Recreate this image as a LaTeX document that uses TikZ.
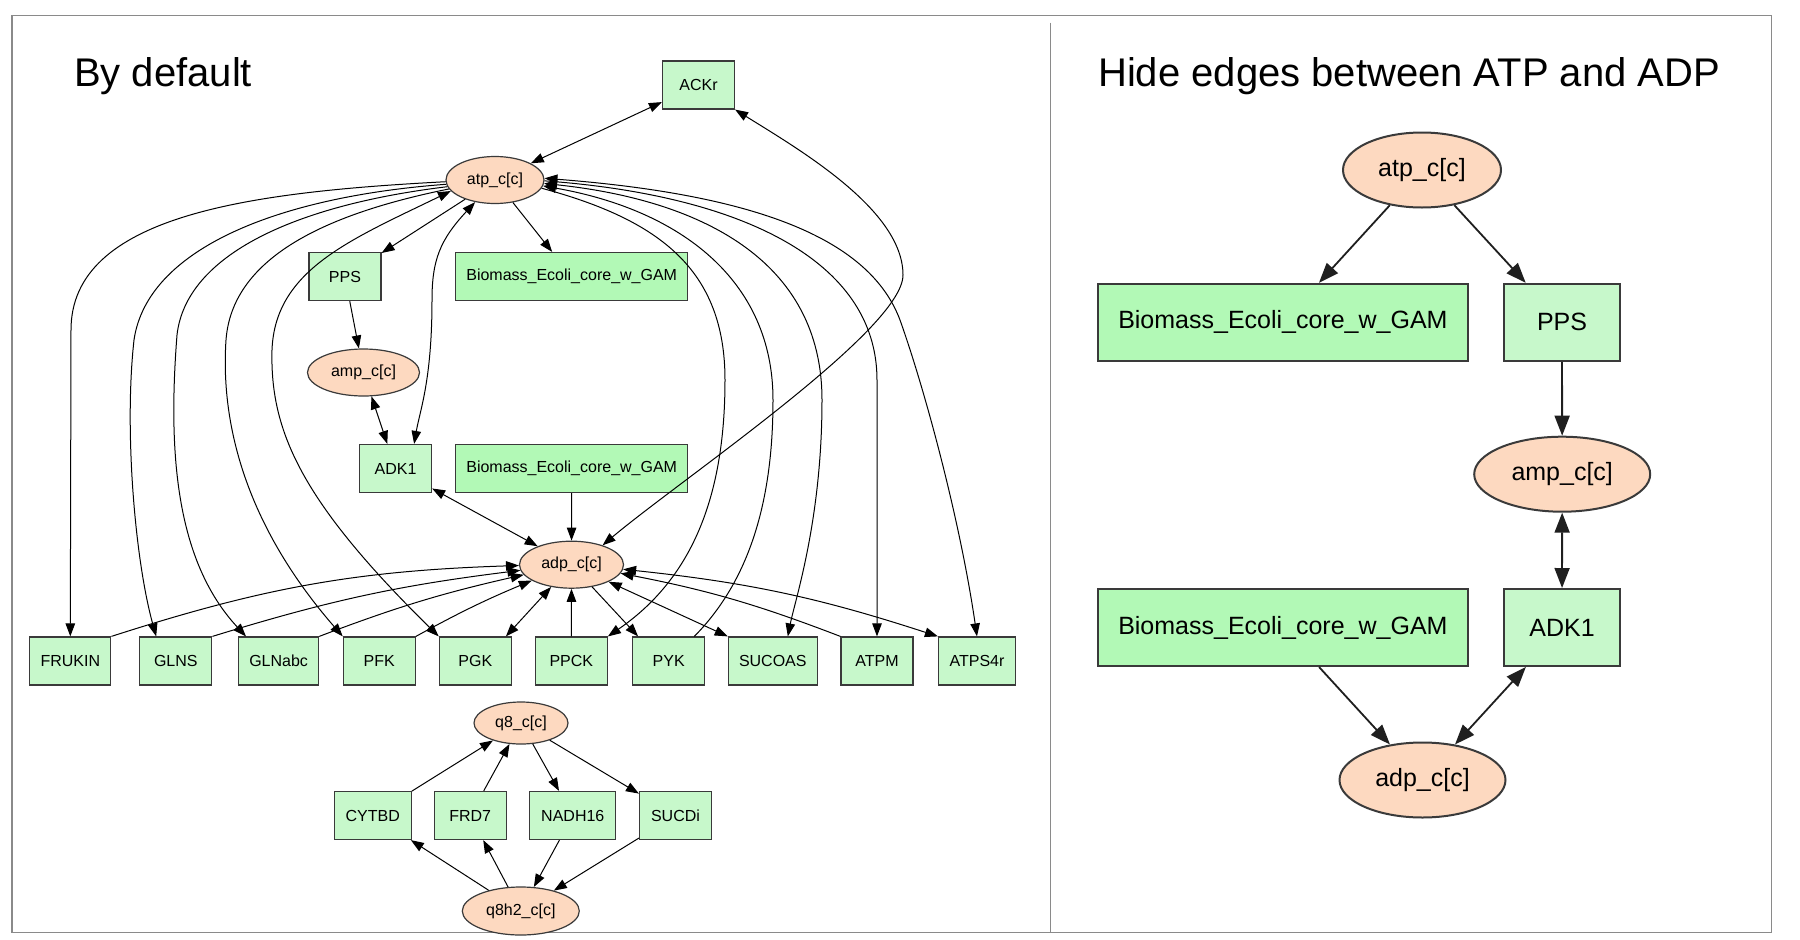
\documentclass[tikz,border=0pt]{standalone}
\usepackage{fontspec}
\setmainfont{Liberation Sans}
\usetikzlibrary{arrows.meta,shapes.geometric}
\definecolor{rxn}{RGB}{199,248,203}
\definecolor{bio}{RGB}{178,249,182}
\definecolor{met}{RGB}{253,217,192}
\definecolor{bord}{RGB}{58,58,58}
\definecolor{framec}{RGB}{138,138,138}
\begin{document}
\begin{tikzpicture}[x=1pt,y=-1pt,
  rxnL/.style={rectangle, draw=bord, fill=rxn, line width=1.2pt, inner sep=0pt, minimum height=48pt, font=\fontsize{16}{19}\selectfont},
  bioL/.style={rxnL, fill=bio},
  metL/.style={ellipse, draw=bord, fill=met, line width=1.2pt, inner sep=0pt, minimum height=47pt, font=\fontsize{16}{19}\selectfont},
  rxnR/.style={rectangle, draw=bord, fill=rxn, line width=2pt, inner sep=0pt, minimum height=77pt, font=\fontsize{25}{30}\selectfont},
  bioR/.style={rxnR, fill=bio},
  metR/.style={ellipse, draw=bord, fill=met, line width=2pt, inner sep=0pt, minimum height=75pt, font=\fontsize{25}{30}\selectfont},
  eL/.style={line width=1pt, draw=black, >={Triangle[length=13pt,width=9.5pt]}},
  eR/.style={line width=1.8pt, draw=black!88, >={Triangle[length=20pt,width=15pt]}},
  titlef/.style={anchor=base west, inner sep=0pt, font=\fontsize{40}{48}\selectfont}
]
\useasboundingbox (0,0) rectangle (1800,940);
\draw[framec, line width=1.5pt] (12,15.7) rectangle (1771.7,932.7);
\draw[framec, line width=1.5pt] (1050.7,22.7) -- (1050.7,932.7);

\node[titlef] (t1) at (74,86) {By default};
\node[titlef] (t2) at (1098,86) {Hide edges between ATP and ADP};

% ---------------- left panel nodes
\node[rxnL, minimum width=72pt] (ACKr) at (698.5,85) {ACKr};
\node[metL, minimum width=98pt] (atp) at (495,180) {atp\_c[c]};
\node[rxnL, minimum width=72pt] (PPS) at (345,276.5) {PPS};
\node[bioL, minimum width=232pt] (bio1) at (571.7,276.5) {Biomass\_Ecoli\_core\_w\_GAM};
\node[metL, minimum width=112pt] (amp) at (363.5,372.5) {amp\_c[c]};
\node[rxnL, minimum width=72pt] (ADK1) at (395.5,468.5) {ADK1};
\node[bioL, minimum width=232pt] (bio2) at (571.7,468.5) {Biomass\_Ecoli\_core\_w\_GAM};
\node[metL, minimum width=104pt] (adp) at (571.5,564.7) {adp\_c[c]};

\node[rxnL, minimum width=81pt] (FRUKIN) at (70.3,661) {FRUKIN};
\node[rxnL, minimum width=72pt] (GLNS) at (175.8,661) {GLNS};
\node[rxnL, minimum width=80pt] (GLNabc) at (278.6,661) {GLNabc};
\node[rxnL, minimum width=72pt] (PFK) at (379.3,661) {PFK};
\node[rxnL, minimum width=72pt] (PGK) at (475.3,661) {PGK};
\node[rxnL, minimum width=72pt] (PPCK) at (571.3,661) {PPCK};
\node[rxnL, minimum width=72pt] (PYK) at (668.7,661) {PYK};
\node[rxnL, minimum width=89pt] (SUCOAS) at (772.8,661) {SUCOAS};
\node[rxnL, minimum width=72pt] (ATPM) at (877,661) {ATPM};
\node[rxnL, minimum width=77pt] (ATPS4r) at (977,661) {ATPS4r};

\node[metL, minimum width=94pt, minimum height=42pt] (q8) at (521,723) {q8\_c[c]};
\node[rxnL, minimum width=77pt] (CYTBD) at (372.7,815.5) {CYTBD};
\node[rxnL, minimum width=72pt] (FRD7) at (470.2,815.5) {FRD7};
\node[rxnL, minimum width=86pt] (NADH16) at (572.8,815.5) {NADH16};
\node[rxnL, minimum width=72pt] (SUCDi) at (675.5,815.5) {SUCDi};
\node[metL, minimum width=117pt, minimum height=48pt] (q8h2) at (520.8,911) {q8h2\_c[c]};

% ---------------- left panel edges
\draw[eL,<->] (atp) -- (ACKr);
\draw[eL,->] (atp) -- (PPS);
\draw[eL,->] (atp) -- (bio1);
\draw[eL,->] (PPS) -- (amp);
\draw[eL,<->] (amp) -- (ADK1);
\draw[eL,<->] (ADK1) -- (adp);
\draw[eL,->] (bio2) -- (adp);
\draw[eL,<->] (atp.228) .. controls (440,240) and (432,260) .. (432,300) .. controls (432,380) and (420,410) .. ([xshift=-18pt]ADK1.north east);
\draw[eL,<->] (ACKr.south east) .. controls (800,150) and (903,210) .. (903,275) .. controls (903,330) and (680,480) .. (adp.32);

\draw[eL,->] (atp.182) .. controls (250,192) and (71,215) .. (71,330) -- (FRUKIN.north);
\draw[eL,->] (atp.185) .. controls (275,197) and (147,250) .. (134,340) .. controls (124,430) and (135,560) .. ([xshift=17pt]GLNS.north west);
\draw[eL,->] (atp.188) .. controls (295,205) and (186,255) .. (177,335) .. controls (168,450) and (175,560) .. ([xshift=8pt]GLNabc.north west);
\draw[eL,->] (atp.191) .. controls (320,215) and (232,260) .. (226,340) .. controls (220,430) and (250,530) .. (PFK.north west);
\draw[eL,<->] (atp.194) .. controls (350,240) and (275,270) .. (272,350) .. controls (270,430) and (300,500) .. (PGK.north west);

\draw[eL,<->] (atp.2) .. controls (760,195) and (870,240) .. (900,320) .. controls (925,390) and (960,520) .. (ATPS4r.north);
\draw[eL,->] (atp.-1) .. controls (740,195) and (877,260) .. (877,380) -- (ATPM.north);
\draw[eL,<->] (atp.-4) .. controls (700,200) and (822,260) .. (822,400) .. controls (822,520) and (795,600) .. ([xshift=15pt]SUCOAS.north);
\draw[eL,->] ([xshift=-11pt]PYK.north east) .. controls (750,580) and (773,500) .. (773,400) .. controls (773,280) and (680,210) .. (atp.-7);
\draw[eL,->] (atp.-10) .. controls (660,220) and (725,270) .. (725,380) .. controls (725,500) and (690,580) .. (PPCK.north east);

\draw[eL,->] (FRUKIN.north east) to[bend left=8] (adp);
\draw[eL,->] (GLNS.north east) to[bend left=5] (adp);
\draw[eL,->] (GLNabc.north east) to[bend left=4] (adp);
\draw[eL,->] (PFK.north east) to[bend left=3] (adp);
\draw[eL,<->] ([xshift=-6pt]PGK.north east) -- (adp);
\draw[eL,->] (PPCK.north) -- (adp.south);
\draw[eL,->] (adp) -- ([xshift=6pt]PYK.north west);
\draw[eL,<->] (adp) -- (SUCOAS.north west);
\draw[eL,->] (ATPM.north west) to[bend right=5] (adp);
\draw[eL,<->] (adp) to[bend left=6] (ATPS4r.north west);

\draw[eL,->] (CYTBD) -- (q8);
\draw[eL,->] (FRD7) -- (q8);
\draw[eL,->] (q8) -- (NADH16);
\draw[eL,->] (q8) -- (SUCDi);
\draw[eL,->] (q8h2) -- (CYTBD);
\draw[eL,->] (q8h2) -- (FRD7);
\draw[eL,->] (NADH16) -- (q8h2);
\draw[eL,->] (SUCDi) -- (q8h2);

% ---------------- right panel
\node[metR, minimum width=158pt] (atpR) at (1422,170) {atp\_c[c]};
\node[bioR, minimum width=370pt] (bioR1) at (1282.9,322.3) {Biomass\_Ecoli\_core\_w\_GAM};
\node[rxnR, minimum width=116pt] (PPSR) at (1562,322.3) {PPS};
\node[metR, minimum width=176pt] (ampR) at (1562.2,474.2) {amp\_c[c]};
\node[bioR, minimum width=370pt] (bioR2) at (1282.9,627.5) {Biomass\_Ecoli\_core\_w\_GAM};
\node[rxnR, minimum width=116pt] (ADK1R) at (1562,627.5) {ADK1};
\node[metR, minimum width=166pt] (adpR) at (1422.5,780) {adp\_c[c]};

\draw[eR,->] (atpR) -- (bioR1);
\draw[eR,->] (atpR) -- (PPSR);
\draw[eR,->] (PPSR) -- (ampR);
\draw[eR,<->] (ampR) -- (ADK1R);
\draw[eR,->] (bioR2) -- (adpR);
\draw[eR,<->] (ADK1R) -- (adpR);
\end{tikzpicture}
\end{document}
